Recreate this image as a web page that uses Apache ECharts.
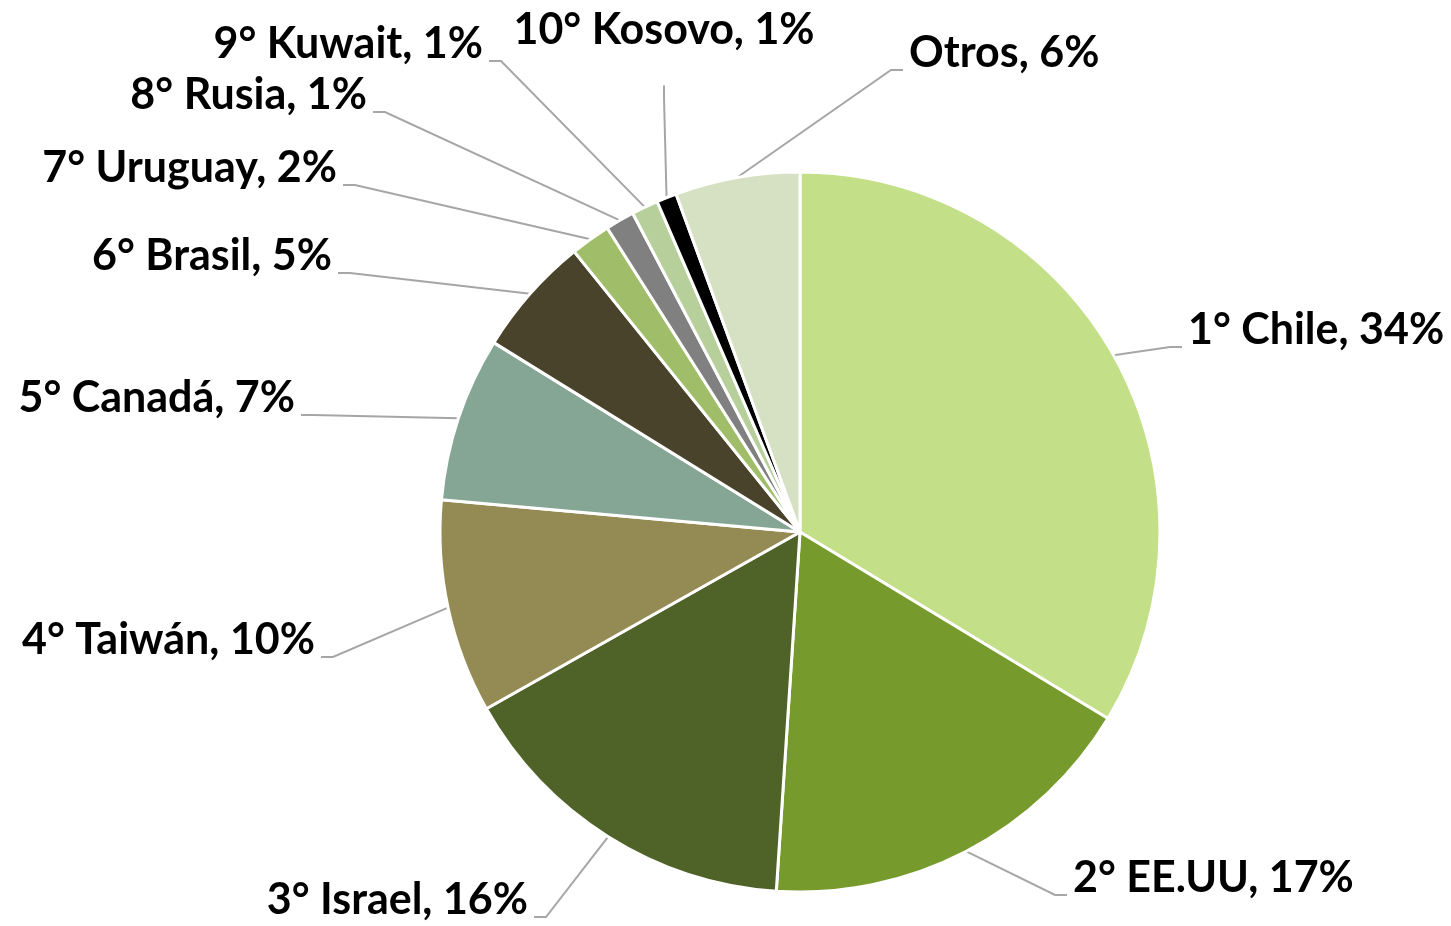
<!DOCTYPE html>
<html>
<head>
<meta charset="utf-8">
<script src="https://cdn.jsdelivr.net/npm/echarts@6/dist/echarts.min.js"></script>
<style>
  html, body { margin: 0; padding: 0; background: #fff; }
  #chart { width: 1451px; height: 926px; }
</style>
</head>
<body>
<div id="chart"></div>
<script>
// destinos de exportación, % del total
const paises = ['1° Chile', '2° EE.UU', '3° Israel', '4° Taiwán', '5° Canadá', '6° Brasil',
  '7° Uruguay', '8° Rusia', '9° Kuwait', '10° Kosovo', 'Otros'];
const valores = [33.7, 17.4, 15.8, 9.6, 7.4, 5.4, 1.8, 1.3, 1.2, 0.9, 5.6];
const colores = ['#C3DF87', '#769A2B', '#4F6228', '#948A54', '#86A695', '#4A432B',
  '#A0BE69', '#808080', '#B7CF9A', '#000000', '#D6E0C3'];

// dónde va cada etiqueta (borde del texto más cercano al pastel, centro vertical)
const etiquetas = [
  [1188, 330, 'left'], [1073, 878, 'left'], [528, 900, 'right'], [315, 640, 'right'],
  [295, 398, 'right'], [332, 256, 'right'], [337, 168, 'right'], [367, 95, 'right'],
  [483, 44, 'right'], [664, 30, 'center'], [909, 53, 'left']
];
const PAD_X = 6, LH = 34;

const chart = echarts.init(document.getElementById('chart'));
chart.setOption({
  backgroundColor: '#fff',
  animation: false,
  series: [{
    type: 'pie',
    center: [800, 532],
    radius: 360,
    startAngle: 90,
    clockwise: true,
    percentPrecision: 0,
    avoidLabelOverlap: false,
    data: paises.map((p, i) => ({ name: p, value: valores[i], itemStyle: { color: colores[i] } })),
    itemStyle: { borderColor: '#fff', borderWidth: 3 },
    label: {
      show: true,
      // línea vacía al final: la guía se engancha a la altura de la base del texto
      formatter: '{b}, {d}%\n',
      fontFamily: 'Lato',
      fontWeight: 'bold',
      fontSize: 43,
      lineHeight: LH,
      color: '#000',
      padding: [0, PAD_X, 0, PAD_X]
    },
    labelLine: {
      show: true,
      length: 20,
      length2: 12,
      lineStyle: { color: '#A6A6A6', width: 2 }
    },
    labelLayout(params) {
      const e = etiquetas[params.dataIndex];
      let x = e[0];
      if (e[2] === 'left') x -= PAD_X;
      if (e[2] === 'right') x += PAD_X;
      return { x, y: e[1] + LH / 2, align: e[2], verticalAlign: 'middle' };
    },
    emphasis: { disabled: true }
  }]
});
</script>
</body>
</html>
